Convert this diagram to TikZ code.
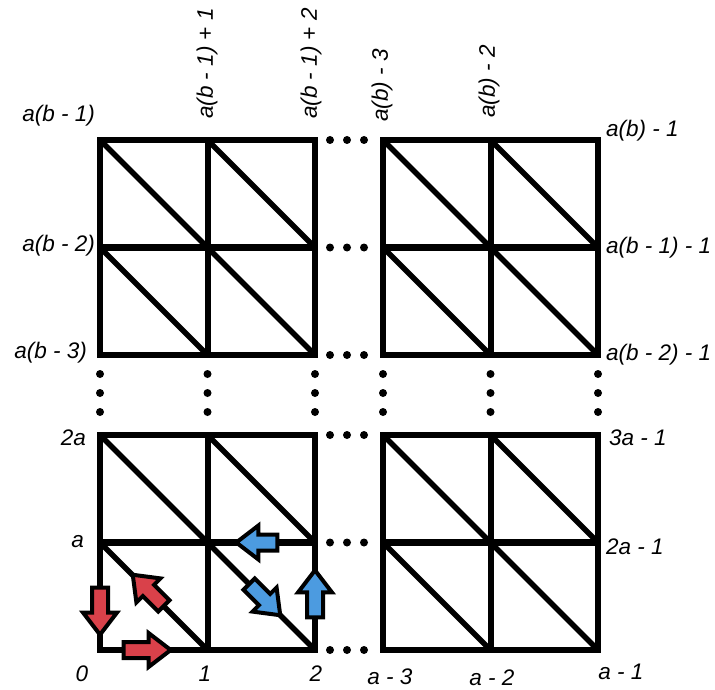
\documentclass[tikz,border=0pt]{standalone}
\usepackage{fontspec}
\setmainfont{Liberation Sans}
\usetikzlibrary{shapes.arrows}
\definecolor{arrRed}{HTML}{D9414A}
\definecolor{arrBlue}{HTML}{4C9BE0}

\begin{document}
\begin{tikzpicture}[x=1pt,y=-1pt,
  grid/.style={line width=6pt,line join=miter},
  midline/.style={line width=7.5pt},
  diag/.style={line width=5.5pt},
  lbl/.style={font=\fontsize{22.5}{26}\selectfont\itshape,inner sep=0pt},
  blk/.style={single arrow,draw=black,line width=4pt,minimum height=47pt,
    inner sep=6pt,single arrow head extend=9pt,single arrow tip angle=75}
]
  \useasboundingbox (0,0) rectangle (715,690);

  % four blocks of 2x2 cells
  \foreach \bx in {100,383}{
    \foreach \by in {140,435}{
      \draw[midline] (\bx,\by+107.5) -- ++(215,0);
      \draw[grid] (\bx+107.5,\by) -- ++(0,215);
      \foreach \i in {0,1}{
        \foreach \j in {0,1}{
          \draw[diag] (\bx+107.5*\i,\by+107.5*\j) -- ++(107.5,107.5);
        }
      }
      \draw[grid] (\bx,\by) rectangle ++(215,215);
    }
  }

  % ellipsis dots
  \foreach \y in {140,247.5,355,435,542.5,650}{
    \foreach \x in {330,347,364}{
      \fill (\x,\y) circle[radius=4pt];
    }
  }
  \foreach \x in {100,207.5,315,383,490.5,598}{
    \foreach \y in {374,393,412}{
      \fill (\x,\y) circle[radius=4pt];
    }
  }

  % labels on the left and right
  \node[lbl,anchor=east] (tl) at (95,116) {a(b - 1)};
  \node[lbl,anchor=east] (ml) at (95,246) {a(b - 2)};
  \node[lbl,anchor=east] (bl) at (87,353) {a(b - 3)};
  \node[lbl,anchor=east] (twoA) at (86,438) {2a};
  \node[lbl,anchor=east] (oneA) at (84,542) {a};
  \node[lbl,anchor=west] (tr) at (606,131) {a(b) - 1};
  \node[lbl,anchor=west] (mr) at (606,248) {a(b - 1) - 1};
  \node[lbl,anchor=west] (br) at (606,355) {a(b - 2) - 1};
  \node[lbl,anchor=west] (threeA) at (609,438) {3a - 1};
  \node[lbl,anchor=west] (twoAm) at (606,547) {2a - 1};

  % rotated labels on top
  \node[lbl,anchor=west,rotate=90] (t1) at (207,119) {a(b - 1) + 1};
  \node[lbl,anchor=west,rotate=90] (t2) at (311,119) {a(b - 1) + 2};
  \node[lbl,anchor=west,rotate=90] (t3) at (382,122) {a(b) - 3};
  \node[lbl,anchor=west,rotate=90] (t4) at (489,118) {a(b) - 2};

  % labels at the bottom
  \node[lbl] (b0) at (82,674) {0};
  \node[lbl] (b1) at (205,674) {1};
  \node[lbl] (b2) at (316,674) {2};
  \node[lbl] (b3) at (390,677) {a - 3};
  \node[lbl] (b4) at (492,678) {a - 2};
  \node[lbl] (b5) at (621,672) {a - 1};

  % block arrows
  \node[blk,fill=arrRed,rotate=-90] (rDown) at (100,606) {};
  \node[blk,fill=arrRed] (rRight) at (142,650) {};
  \node[blk,fill=arrRed,rotate=135,minimum height=44pt] (rDiag) at (152,594) {};
  \node[blk,fill=arrBlue,rotate=180,minimum height=41pt] (bLeft) at (262,542.5) {};
  \node[blk,fill=arrBlue,rotate=-45,minimum height=44pt] (bDiag) at (261,596) {};
  \node[blk,fill=arrBlue,rotate=90] (bUp) at (315,599) {};
\end{tikzpicture}
\end{document}
